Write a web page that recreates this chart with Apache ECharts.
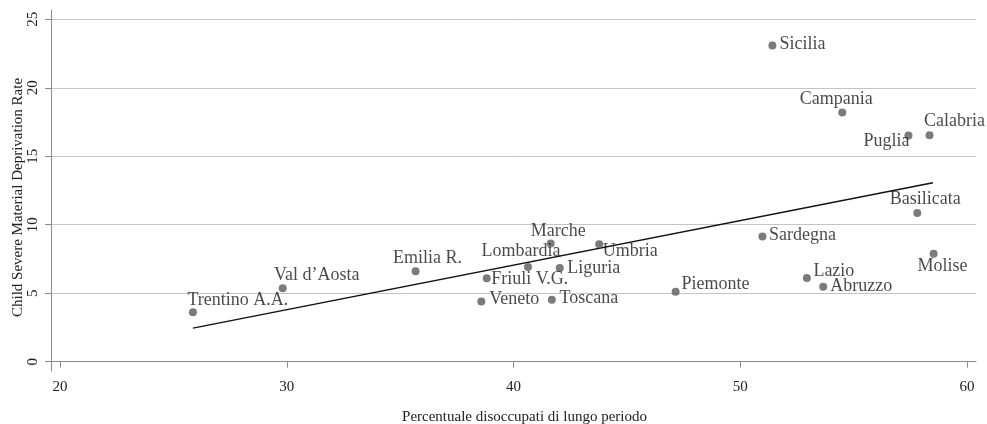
<!DOCTYPE html>
<html>
<head>
<meta charset="utf-8">
<script src="https://cdn.jsdelivr.net/npm/echarts@6/dist/echarts.min.js"></script>
<style>
  html, body { margin: 0; padding: 0; background: #fff; }
  #chart { width: 987px; height: 424px; }
</style>
</head>
<body>
<div id="chart"></div>
<script>
// Italian regions: long-term unemployment share vs child severe material deprivation
const regions = [
  'Trentino A.A.', 'Val d’Aosta', 'Emilia R.', 'Veneto', 'Friuli V.G.',
  'Lombardia', 'Marche', 'Toscana', 'Liguria', 'Umbria',
  'Piemonte', 'Sardegna', 'Sicilia', 'Lazio', 'Abruzzo',
  'Campania', 'Puglia', 'Basilicata', 'Calabria', 'Molise'
];
const longTermUnemployed = [
  25.86, 29.82, 35.68, 38.58, 38.82,
  40.64, 41.64, 41.69, 42.04, 43.78,
  47.15, 50.98, 51.42, 52.94, 53.66,
  54.50, 57.42, 57.81, 58.35, 58.53
];
const deprivationRate = [
  3.61, 5.36, 6.60, 4.39, 6.09,
  6.91, 8.63, 4.53, 6.84, 8.58,
  5.11, 9.14, 23.08, 6.11, 5.48,
  18.20, 16.51, 10.86, 16.53, 7.88
];
// linear fit, end points
const fitX = [25.86, 58.50];
const fitY = [2.45, 13.07];
const xTicks = [20, 30, 40, 50, 60];
const yTicks = [0, 5, 10, 15, 20, 25];

// label placement around each marker (px offset of the label centre)
const labelOffset = {
  'Trentino A.A.': [45, -12], 'Val d’Aosta': [34, -13], 'Emilia R.': [12, -13],
  'Veneto': [33, -2], 'Friuli V.G.': [43, 1], 'Lombardia': [-7, -15.5],
  'Marche': [7.5, -12], 'Toscana': [37, -1], 'Liguria': [34, 0],
  'Umbria': [31, 7.5], 'Piemonte': [40, -7], 'Sardegna': [40, -1],
  'Sicilia': [30, -1], 'Lazio': [27, -7], 'Abruzzo': [38, -0.5],
  'Campania': [-6, -13], 'Puglia': [-22, 6], 'Basilicata': [8, -14],
  'Calabria': [25, -14], 'Molise': [9, 12.5]
};

const serif = 'Liberation Serif';
const chart = echarts.init(document.getElementById('chart'), null, { renderer: 'canvas' });

chart.setOption({
  animation: false,
  backgroundColor: '#ffffff',
  grid: { left: 51, right: 11, top: 10, bottom: 53, containLabel: false, outerBoundsMode: 'none' },
  xAxis: {
    type: 'value',
    min: 19.6,
    max: 60.4,
    name: 'Percentuale disoccupati di lungo periodo',
    nameLocation: 'middle',
    nameGap: 39,
    nameMoveOverlap: false,
    nameTextStyle: { fontFamily: serif, fontSize: 15, color: '#222', padding: [0, 0, 0, 22] },
    axisLine: { show: true, lineStyle: { color: '#8a8a8a', width: 1 } },
    axisTick: { show: true, length: 6, customValues: xTicks, lineStyle: { color: '#8a8a8a' } },
    axisLabel: { customValues: xTicks, fontFamily: serif, fontSize: 15, color: '#222', margin: 9 },
    splitLine: { show: false }
  },
  yAxis: {
    type: 'value',
    min: -0.68,
    max: 25.68,
    name: 'Child Severe Material Deprivation Rate',
    nameLocation: 'middle',
    nameGap: 25,
    nameMoveOverlap: false,
    nameTextStyle: { fontFamily: serif, fontSize: 15, color: '#222', padding: [0, 14, 0, 0] },
    axisLine: { show: true, lineStyle: { color: '#8a8a8a', width: 1 } },
    axisTick: { show: true, length: 6, customValues: yTicks, lineStyle: { color: '#8a8a8a' } },
    axisLabel: { customValues: yTicks, rotate: 90, fontFamily: serif, fontSize: 15, color: '#222', margin: 10 },
    splitLine: { show: true, lineStyle: { color: '#c4c4c4', width: 1 } }
  },
  series: [
    {
      type: 'line',
      data: fitX.map((x, i) => [x, fitY[i]]),
      symbol: 'none',
      lineStyle: { color: '#111', width: 1.4 },
      z: 2,
      silent: true
    },
    {
      type: 'scatter',
      symbol: 'circle',
      symbolSize: 8,
      itemStyle: { color: '#5a5a5a' },
      z: 3,
      label: {
        show: true,
        position: 'inside',
        formatter: '{b}',
        fontFamily: serif,
        fontSize: 18,
        color: '#1a1a1a',
        align: 'center',
        verticalAlign: 'middle'
      },
      data: regions.map((r, i) => ({
        name: r,
        value: [longTermUnemployed[i], deprivationRate[i]],
        label: { offset: labelOffset[r] }
      }))
    }
  ]
});
</script>
</body>
</html>
